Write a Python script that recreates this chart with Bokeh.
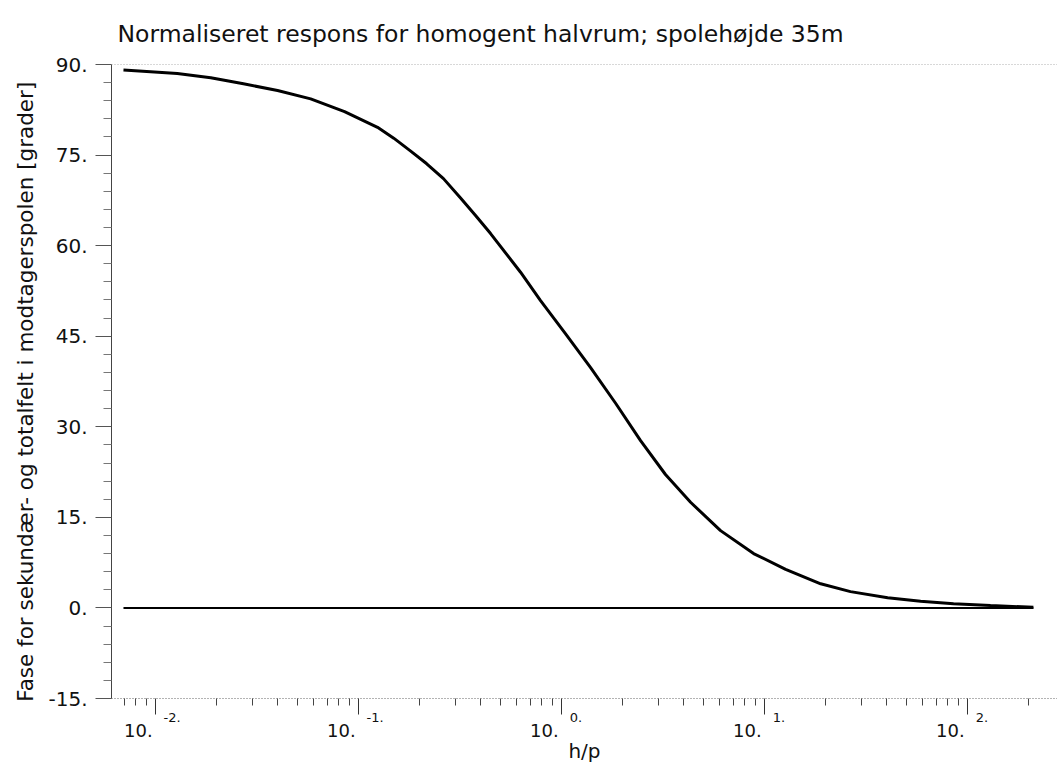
from bokeh.plotting import figure
from bokeh.models import FixedTicker, LogAxis, Range1d, Span
from bokeh.embed import file_html
from bokeh.resources import INLINE

# ---- data ----
hp = [0.00695, 0.00945, 0.0128, 0.0187, 0.0271, 0.0399, 0.0581, 0.0853,
      0.124, 0.149, 0.180, 0.216, 0.262, 0.318, 0.377, 0.447, 0.628, 0.788,
      1.047, 1.39, 1.846, 2.45, 3.25, 4.32, 6.07, 8.83, 12.7, 18.9, 26.5,
      40.4, 58.7, 85.3, 129.7, 211.0]
phase_secondary = [89.1, 88.8, 88.5, 87.8, 86.8, 85.7, 84.3, 82.2,
                   79.6, 77.8, 75.7, 73.6, 71.1, 67.9, 65.0, 62.0, 55.6, 50.9,
                   45.4, 39.8, 33.9, 27.7, 22.1, 17.5, 12.8, 9.0, 6.4, 4.0, 2.7,
                   1.7, 1.1, 0.7, 0.4, 0.1]
phase_total = [0.0, 0.0, 0.0, 0.0, 0.0, 0.0, 0.0, 0.0,
               0.0, 0.0, 0.0, 0.0, 0.0, 0.0, 0.0, 0.0, 0.0, 0.0,
               0.0, 0.0, 0.0, 0.0, 0.0, 0.0, 0.0, 0.0, 0.0, 0.0, 0.0,
               0.0, 0.0, 0.0, 0.0, 0.0]

y_ticks = [-15, 0, 15, 30, 45, 60, 75, 90]
y_tick_labels = ["-15.", "0.", "15.", "30.", "45.", "60.", "75.", "90."]
x_ticks = [0.01, 0.1, 1.0, 10.0, 100.0]
x_base_label = "10."
x_sup_labels = ["-2.", "-1.", "0.", "1.", "2."]

title_text = "Normaliseret respons for homogent halvrum; spolehøjde 35m"
ylabel_text = "Fase for sekundær- og totalfelt i modtagerspolen [grader]"
xlabel_text = "h/p"

FONT = "DejaVu Sans"
TXT = "#111111"
NB = "\u00a0"

x_min, x_max = 10 ** -2.217, 10 ** 2.443

p = figure(width=1057, height=765, x_axis_type="log",
           x_range=Range1d(x_min, x_max), y_range=Range1d(-15, 90),
           output_backend="svg", toolbar_location=None,
           min_border_left=111, min_border_right=0,
           min_border_top=64, min_border_bottom=67)
p.grid.visible = False
p.outline_line_color = None
p.background_fill_color = "white"
p.border_fill_color = "white"

# title
p.title.text = title_text
p.title.align = "left"
p.title.offset = 6
p.title.standoff = 34
p.title.text_font = FONT
p.title.text_font_size = "23.5px"
p.title.text_font_style = "normal"
p.title.text_color = TXT

# y axis
ya = p.yaxis[0]
y_minor = [v for v in range(-15, 91, 3) if v not in y_ticks]
ya.ticker = FixedTicker(ticks=y_ticks, minor_ticks=y_minor)
ya.major_label_overrides = {t: l for t, l in zip(y_ticks, y_tick_labels)}
ya.major_tick_out = 16
ya.major_tick_in = 0
ya.minor_tick_out = 8
ya.minor_tick_in = 0
ya.axis_line_color = "#444444"
ya.major_tick_line_color = "#555555"
ya.minor_tick_line_color = "#777777"
ya.major_label_standoff = 8
ya.major_label_text_font = FONT
ya.major_label_text_font_size = "20px"
ya.major_label_text_color = TXT
ya.axis_label = ylabel_text + NB * 3
ya.axis_label_standoff = 7
ya.axis_label_text_font = FONT
ya.axis_label_text_font_size = "21.5px"
ya.axis_label_text_font_style = "normal"
ya.axis_label_text_color = TXT

# x axis (bottom): ticks + exponent labels
x_minor = [m * 10.0 ** e for e in range(-3, 3) for m in range(2, 10)
           if x_min <= m * 10.0 ** e <= x_max]
xa = p.xaxis[0]
xa.ticker = FixedTicker(ticks=x_ticks, minor_ticks=x_minor)
xa.major_label_overrides = {
    t: NB * (8 if len(s) == 3 else 7) + s for t, s in zip(x_ticks, x_sup_labels)}
xa.major_label_text_font = FONT
xa.major_label_text_font_size = "13px"
xa.major_label_text_color = TXT
xa.major_label_standoff = -5
xa.major_tick_out = 16
xa.major_tick_in = 0
xa.minor_tick_out = 7
xa.minor_tick_in = 0
xa.axis_line_color = "#666666"
xa.axis_line_dash = "1 2"
xa.major_tick_line_color = "#333333"
xa.minor_tick_line_color = "#444444"

# second bottom axis: base "10." labels and the axis title
xb = LogAxis(ticker=FixedTicker(ticks=x_ticks))
xb.major_label_overrides = {t: x_base_label + NB * 6 for t in x_ticks}
xb.major_label_text_font = FONT
xb.major_label_text_font_size = "18px"
xb.major_label_text_color = TXT
xb.major_label_standoff = -8
xb.major_tick_out = 0
xb.major_tick_in = 0
xb.minor_tick_out = 0
xb.minor_tick_in = 0
xb.axis_line_color = None
xb.major_tick_line_color = None
xb.minor_tick_line_color = None
xb.axis_label = xlabel_text
xb.axis_label_standoff = -5
xb.axis_label_text_font = FONT
xb.axis_label_text_font_size = "20px"
xb.axis_label_text_font_style = "normal"
xb.axis_label_text_color = TXT
p.add_layout(xb, "below")

# top frame line (dotted)
p.add_layout(Span(location=90, dimension="width", line_color="#666666",
                  line_dash="1 2", line_width=1))

# curves
p.line(hp, phase_secondary, line_width=3, color="black")
p.line(hp, phase_total, line_width=2, color="black")

open("out.html", "w").write(file_html(p, INLINE))
